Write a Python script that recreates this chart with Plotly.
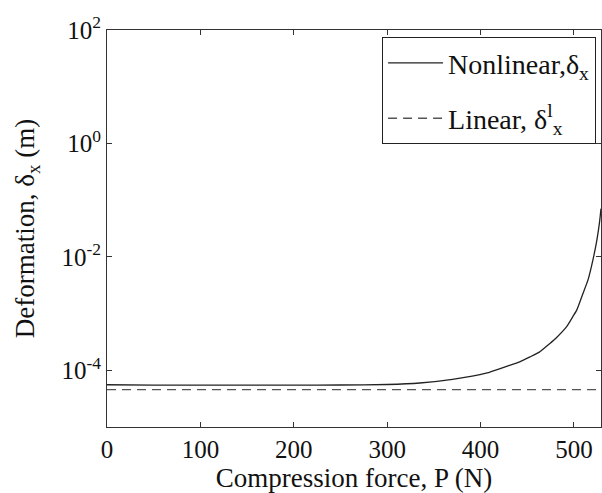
import plotly.graph_objects as go

# Data
force = [0, 50, 100, 150, 200, 250, 300, 335, 370, 406, 431, 442, 453, 463,
         474, 481, 492, 499, 503, 509.6, 515, 518.6, 524, 527.5, 529]
nonlinear = [5.56e-5, 5.47e-5, 5.47e-5, 5.47e-5, 5.47e-5, 5.5e-5, 5.62e-5,
             5.97e-5, 6.92e-5, 8.91e-5, 1.225e-4, 1.41e-4, 1.72e-4, 2.09e-4,
             2.95e-4, 3.72e-4, 5.81e-4, 8.91e-4, 1.15e-3, 2.24e-3, 3.89e-3,
             6.61e-3, 1.74e-2, 4.17e-2, 7.08e-2]
linear_force = [0, 529]
linear = [4.56e-5, 4.56e-5]

x_ticks = [0, 100, 200, 300, 400, 500]
y_ticks = [1e-4, 1e-2, 1, 1e2]
y_ticktext = ["10<sup>-4</sup>", "10<sup>-2</sup>", "10<sup>0</sup>", "10<sup>2</sup>"]

FONT = "Liberation Serif"

fig = go.Figure()
fig.add_trace(go.Scatter(x=force, y=nonlinear, mode="lines",
                         line=dict(color="#222222", width=1.3, shape="spline", smoothing=0.5),
                         name="Nonlinear,δ<sub>x</sub>", legendgroup="a"))
fig.add_trace(go.Scatter(x=linear_force, y=linear, mode="lines",
                         line=dict(color="#555555", width=1.3, dash="9px,6px"),
                         name="Linear, δ<sup>l</sup><sub>x</sub>", legendgroup="b"))

axis_common = dict(showline=True, linecolor="#333333", linewidth=1, mirror="ticks",
                   ticks="inside", ticklen=5, tickcolor="#333333", showgrid=False,
                   zeroline=False, tickfont=dict(family=FONT, size=25, color="#111111"))

fig.update_layout(
    width=602, height=493,
    margin=dict(l=107, r=1, t=30, b=66),
    paper_bgcolor="white", plot_bgcolor="white",
    font=dict(family=FONT, size=25, color="#111111"),
    showlegend=True,
    legend=dict(x=0.99, y=0.982, xanchor="right", yanchor="top",
                bordercolor="#222222", borderwidth=1, bgcolor="white",
                font=dict(family=FONT, size=28, color="#111111"),
                tracegroupgap=16, itemwidth=55),
    xaxis=dict(range=[0, 529], tickvals=x_ticks,
               title=dict(text="Compression force, P (N)", standoff=2,
                          font=dict(family=FONT, size=27)),
               **axis_common),
    yaxis=dict(type="log", range=[-5, 2], tickvals=y_ticks, ticktext=y_ticktext,
               title=dict(text="Deformation, δ<sub>x</sub> (m)", standoff=18,
                          font=dict(family=FONT, size=27)),
               **axis_common),
)

fig.write_html("out.html")
